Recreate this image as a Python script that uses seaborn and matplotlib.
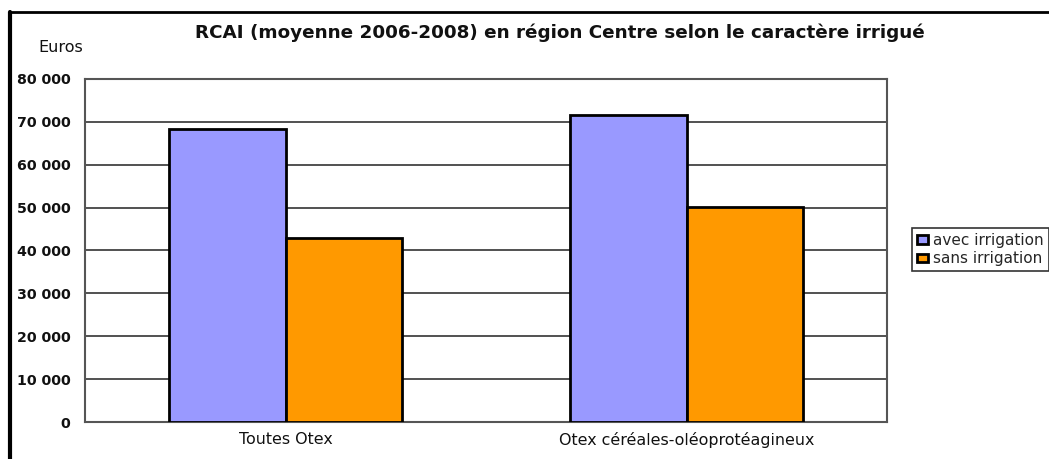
import matplotlib
matplotlib.use("Agg")
import matplotlib.pyplot as plt
import seaborn as sns
import pandas as pd
from matplotlib.ticker import FuncFormatter, FixedLocator
from matplotlib.patches import Rectangle
from matplotlib.lines import Line2D

categories = ["Toutes Otex", "Otex céréales-oléoprotéagineux"]
series = ["avec irrigation", "sans irrigation"]
avec = [68300, 71600]
sans = [42800, 50100]
colors = ["#9999FF", "#FF9900"]

df = pd.DataFrame({
    "cat": categories * 2,
    "serie": [series[0]] * 2 + [series[1]] * 2,
    "val": avec + sans,
})

sns.set_style("white")
plt.rcParams['font.family'] = ['DejaVu Sans']

W, H = 1049, 459
fig = plt.figure(figsize=(W / 100, H / 100), dpi=100)
ax = fig.add_axes([85 / W, 1 - 422 / H, (887 - 85) / W, (422 - 79) / H])

sns.barplot(data=df, x="cat", y="val", hue="serie", palette=colors,
            width=0.58, edgecolor="black", linewidth=2, ax=ax, legend=False,
            saturation=1, zorder=3)

ax.set_ylim(0, 80000)
ax.set_xlim(-0.5, 1.5)
ax.set_yticks(range(0, 80001, 10000))
ax.yaxis.set_major_formatter(FuncFormatter(lambda v, p: f"{int(v):,}".replace(",", " ")))
ax.grid(axis="y", color="#333333", linewidth=1.2, zorder=0)
ax.set_axisbelow(True)
for s in ax.spines.values():
    s.set_color("#555555")
    s.set_linewidth(1.5)
ax.set_xlabel("")
ax.set_ylabel("")
ax.tick_params(axis="y", length=0, labelsize=10.2, pad=10.5)
ax.tick_params(axis="x", length=0, labelsize=11.4, pad=7)
for t in ax.get_yticklabels():
    t.set_color("#111111")
    t.set_fontweight("bold")
for t in ax.get_xticklabels():
    t.set_color("#111111")
# category separator tick
ax.xaxis.set_minor_locator(FixedLocator([0.5]))
ax.tick_params(axis="x", which="minor", length=4, direction="in", color="#555555", width=1)

fig.text(560 / W, 1 - 33 / H, "RCAI (moyenne 2006-2008) en région Centre selon le caractère irrigué",
         ha="center", va="center", fontsize=13.2, fontweight="bold", color="#111111")
fig.text(38 / W, 1 - 48 / H, "Euros", ha="left", va="center", fontsize=11.5, color="#111111")

# legend
handles = [Rectangle((0, 0), 1, 1, facecolor=c, edgecolor="black", linewidth=2) for c in colors]
leg = fig.legend(handles, series, loc="upper left", bbox_to_anchor=(912 / W, 1 - 228 / H),
                 frameon=True, fancybox=False, fontsize=11, handlelength=0.75, handleheight=0.5,
                 handletextpad=0.35, borderpad=0.3, labelspacing=0.25, borderaxespad=0)
leg.get_frame().set_edgecolor("black")
leg.get_frame().set_linewidth(1.2)

# outer frame (clipped on right/bottom)
fig.add_artist(Line2D([10 / W, 10 / W], [1 - 12 / H, 0], transform=fig.transFigure,
                      color="black", linewidth=3))
fig.add_artist(Line2D([10 / W, 1], [1 - 12 / H, 1 - 12 / H], transform=fig.transFigure,
                      color="black", linewidth=2))

fig.savefig("out.png", dpi=100, facecolor="white")
